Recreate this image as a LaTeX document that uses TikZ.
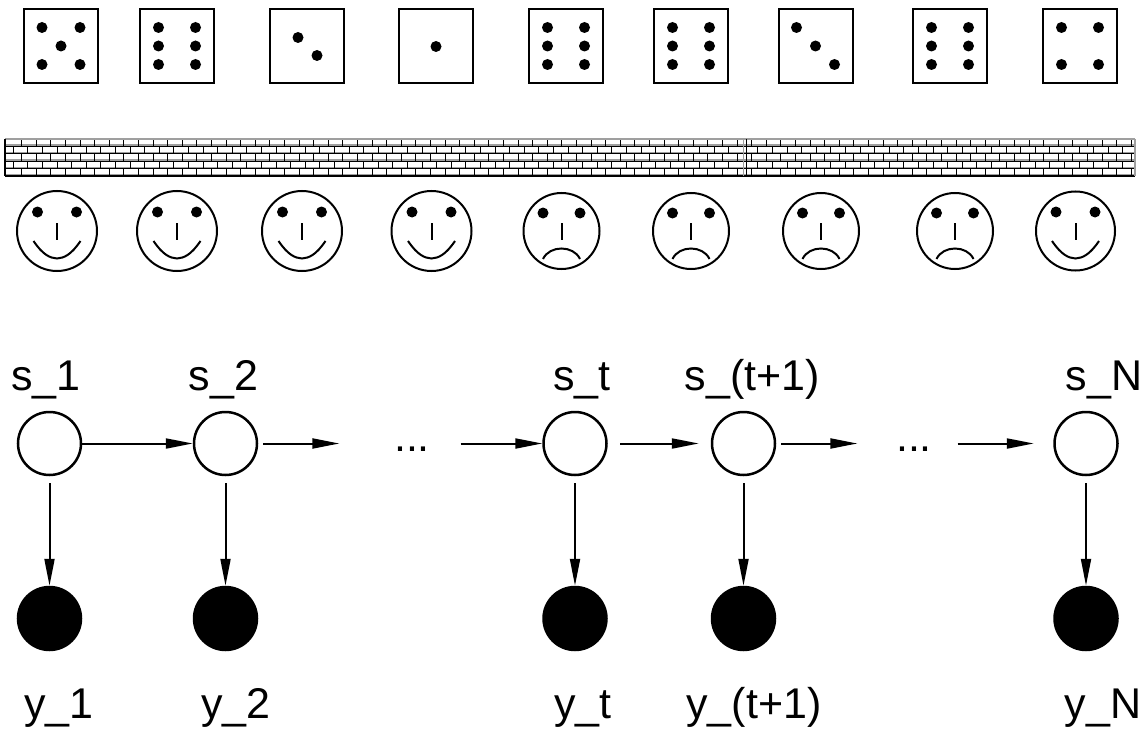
\documentclass[tikz,border=0pt]{standalone}
\usepackage{fontspec}
\setmainfont{Liberation Sans}
\usetikzlibrary{arrows.meta,calc}
\begin{document}
\begin{tikzpicture}[x=1pt,y=-1pt,
  die/.style={draw,line width=2pt,minimum size=74pt,inner sep=0pt},
  face/.style={circle,draw,line width=2pt,inner sep=0pt,minimum size=#1},
  state/.style={circle,draw,line width=2.5pt,minimum size=63pt,inner sep=0pt},
  obs/.style={state,fill=black},
  lbl/.style={anchor=base,inner sep=0pt,font=\fontsize{43}{50}\selectfont},
  arr/.style={line width=2pt,-{Triangle[length=27pt,width=10pt]}},
  feature/.style={line width=2pt},
  happyface/.pic={
    \fill (-19.5,-19) circle (5.5) (19.5,-19) circle (5.5);
    \draw[feature] (0,-8) -- (0,9);
    \draw[feature] (-23.5,10) .. controls (-14,24) and (-7,27) .. (0,27.5)
                   .. controls (7,27) and (14,24) .. (23.5,10);
  },
  sadface/.pic={
    \fill (-18.5,-18) circle (5.5) (18.5,-18) circle (5.5);
    \draw[feature] (0,-8) -- (0,9);
    \draw[feature] (-18.5,28) .. controls (-12,14) and (12,14) .. (18.5,28);
  }]
\useasboundingbox (0,0) rectangle (1143,733);

% ---- dice ----
\node[die] (d1) at (61,46) {};
\node[die] (d2) at (177,46) {};
\node[die] (d3) at (306.5,46) {};
\node[die] (d4) at (436,46) {};
\node[die] (d5) at (566,46) {};
\node[die] (d6) at (691,46) {};
\node[die] (d7) at (815.5,46) {};
\node[die] (d8) at (950,46) {};
\node[die] (d9) at (1080,46) {};
\foreach \n/\pat in {
  d1/{-19/-18.5,19/-18.5,0/0,-19/18.5,19/18.5},
  d2/{-18.5/-18.5,18.5/-18.5,-18.5/0,18.5/0,-18.5/18.5,18.5/18.5},
  d3/{-8.5/-8.5,10.5/9.5},
  d4/{0/0.5},
  d5/{-18.5/-18.5,18.5/-18.5,-18.5/0,18.5/0,-18.5/18.5,18.5/18.5},
  d6/{-18.5/-18.5,18.5/-18.5,-18.5/0,18.5/0,-18.5/18.5,18.5/18.5},
  d7/{-19/-18.5,0/0,19/18.5},
  d8/{-18.5/-18.5,18.5/-18.5,-18.5/0,18.5/0,-18.5/18.5,18.5/18.5},
  d9/{-18.5/-18.5,18.5/-18.5,-18.5/18.5,18.5/18.5}}{
  \foreach \x/\y in \pat { \fill ($(\n)+(\x,\y)$) circle (5.5); }
}

% ---- brick wall ----
\foreach \r in {0,...,4}{
  \draw[gray!75,line width=1.4pt] (5,139+7.4*\r+6.1) -- (1135,139+7.4*\r+6.1);
  \draw[line width=1.1pt] (5,139+7.4*\r) -- (1135,139+7.4*\r);
  \pgfmathsetmacro\xo{ifthenelse(mod(\r,2)==0,21.7,13.3)}
  \foreach \k in {0,...,76}{
    \draw[line width=1.1pt] (\xo+14.6*\k,139+7.4*\r) -- (\xo+14.6*\k,139+7.4*\r+7.4);
  }
}
\draw[gray!75,line width=1.3pt] (5,139) -- (1135,139);
\draw[line width=1.2pt] (5,176) -- (1135,176);
\draw[line width=1.5pt] (5,139) -- (5,176);
\draw[gray!75,line width=1.2pt] (1135,139) -- (1135,176);
\draw[gray!75,line width=1pt] (743,139) -- (743,176);
\draw[line width=1.2pt] (746.5,139) -- (746.5,176);

% ---- faces ----
\node[face=80pt] (f1) at (57,231) {};
\node[face=80pt] (f2) at (177,231) {};
\node[face=80pt] (f3) at (302,231) {};
\node[face=80pt] (f4) at (431.5,231) {};
\node[face=76pt] (f5) at (561.5,231) {};
\node[face=76pt] (f6) at (691,231) {};
\node[face=76pt] (f7) at (821,231) {};
\node[face=76pt] (f8) at (955,231) {};
\node[face=79pt] (f9) at (1075.5,231) {};
\foreach \n in {f1,f2,f3,f4,f9} { \pic at (\n) {happyface}; }
\foreach \n in {f5,f6,f7,f8} { \pic at (\n) {sadface}; }

% ---- hidden state chain ----
\node[state] (s1)  at (49.5,443.5) {};
\node[state] (s2)  at (225.5,443.5) {};
\node[state] (st)  at (575,443.5) {};
\node[state] (st1) at (743.5,443.5) {};
\node[state] (sN)  at (1086,443.5) {};
\node[lbl] (dots1) at (412,451) {...};
\node[lbl] (dots2) at (914,451) {...};

\node[lbl] (ls1)  at (46,390) {s\_1};
\node[lbl] (ls2)  at (223.5,390) {s\_2};
\node[lbl] (lst)  at (582,390) {s\_t};
\node[lbl] (lst1) at (752.5,390) {s\_(t+1)};
\node[lbl] (lsN)  at (1104,390) {s\_N};

% ---- observations ----
\node[obs] (y1)  at (49.5,618.5) {};
\node[obs] (y2)  at (225.5,618.5) {};
\node[obs] (yt)  at (575,618.5) {};
\node[obs] (yt1) at (743.5,618.5) {};
\node[obs] (yN)  at (1086,618.5) {};

\node[lbl] (ly1)  at (59,718) {y\_1};
\node[lbl] (ly2)  at (236,718) {y\_2};
\node[lbl] (lyt)  at (583,718) {y\_t};
\node[lbl] (lyt1) at (754,718) {y\_(t+1)};
\node[lbl] (lyN)  at (1103,718) {y\_N};

% ---- transitions ----
\draw[arr] (s1) -- (s2);
\draw[arr,shorten <=5pt,shorten >=54.5pt] (s2) -- (s2 -| dots1.west);
\draw[arr,shorten <=30.5pt] (st -| dots1.east) -- (st);
\draw[arr,shorten <=12.5pt,shorten >=12pt] (st) -- (st1);
\draw[arr,shorten <=5pt,shorten >=38.5pt] (st1) -- (st1 -| dots2.west);
\draw[arr,shorten <=25.5pt,shorten >=19.5pt] (sN -| dots2.east) -- (sN);

% ---- emissions ----
\foreach \a/\b in {s1/y1,s2/y2,st/yt,st1/yt1,sN/yN}{
  \draw[arr,shorten <=7pt] (\a) -- (\b);
}
\end{tikzpicture}
\end{document}
